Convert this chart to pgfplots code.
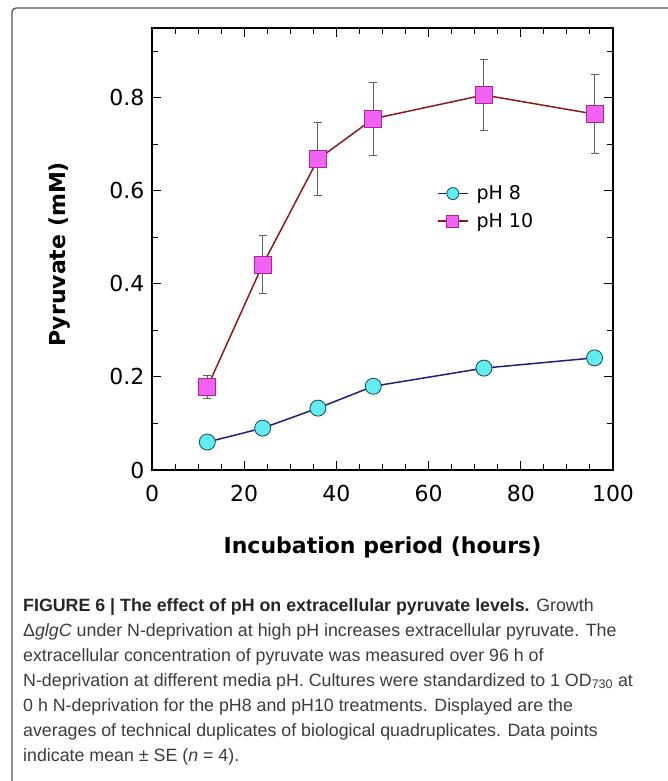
\documentclass[border=0pt]{standalone}
\usepackage{pgfplots}
\pgfplotsset{compat=1.18}
\usepackage{pgfplotstable}
\usepackage{fontspec}
\setmainfont{DejaVu Sans}
\newfontfamily\capfont{Liberation Sans}
\definecolor{cyanfill}{RGB}{96,238,240}
\definecolor{cyanedge}{RGB}{30,85,95}
\definecolor{magfill}{RGB}{242,98,242}
\definecolor{magedge}{RGB}{165,40,150}
\definecolor{navyline}{RGB}{30,30,130}
\definecolor{redline}{RGB}{140,25,30}
\definecolor{errgray}{RGB}{95,95,95}
\definecolor{captxt}{RGB}{60,60,60}
\definecolor{framecol}{RGB}{80,80,80}

\pgfplotstableread{
x y e
12 0.060 0.005
24 0.090 0.011
36 0.133 0.012
48 0.180 0.012
72 0.219 0.010
96 0.241 0.012
}\phEight
\pgfplotstableread{
x y e
12 0.178 0.025
24 0.441 0.062
36 0.668 0.079
48 0.755 0.078
72 0.806 0.077
96 0.765 0.084
}\phTen

\begin{document}
\begin{tikzpicture}
\path[use as bounding box] (0pt,0pt) rectangle (668pt,-781pt);
\draw[framecol, line width=1.2pt, rounded corners=4pt] (12pt,-781pt) -- (12pt,-8pt) -- (668pt,-8pt);

\begin{axis}[
  at={(152pt,-470pt)}, anchor=south west,
  scale only axis, width=461pt, height=442pt,
  xmin=0, xmax=100, ymin=0, ymax=0.95,
  xtick={0,20,...,100}, minor xtick={5,10,...,95},
  ytick={0,0.2,0.4,0.6,0.8}, minor ytick={0.1,0.3,0.5,0.7,0.9},
  tick align=inside, tick pos=both,
  major tick length=9pt, minor tick length=6pt,
  axis line style={line width=2.7pt},
  every tick/.style={black, line width=1pt},
  /pgf/number format/assume math mode=true,
  ticklabel style={font=\fontsize{22}{22}\selectfont},
  xticklabel style={yshift=-12pt},
  yticklabel style={xshift=-4pt},
  xlabel={\bfseries Incubation period (hours)},
  ylabel={\bfseries Pyruvate (mM)},
  every axis x label/.style={at={(axis description cs:0.5,0)}, anchor=center, yshift=-77pt, font=\fontsize{22}{22}\selectfont},
  every axis y label/.style={at={(axis description cs:0,0.488)}, rotate=90, anchor=center, yshift=92pt, font=\fontsize{22}{22}\selectfont},
  legend style={at={(rel axis cs:0.618,0.648)}, anchor=north west, draw=none, fill=none,
    font=\fontsize{19}{19}\selectfont, row sep=8pt, inner sep=0pt},
  legend cell align=left,
  legend image code/.code={\draw[mark repeat=2,mark phase=2, mark size=6pt] plot coordinates {(0pt,0pt) (15pt,0pt) (30pt,0pt)};},
]
\addplot[navyline, line width=1.5pt, mark=*, mark size=8pt,
  mark options={fill=cyanfill, draw=cyanedge, line width=0.9pt}] table[x=x,y=y] {\phEight};
\addlegendentry{\hspace*{6pt}pH 8}
\addplot[redline, line width=1.5pt, mark=square*, mark size=8.5pt,
  mark options={fill=magfill, draw=magedge, line width=0.9pt}] table[x=x,y=y] {\phTen};
\addlegendentry{\hspace*{6pt}pH 10}
\addplot[draw=none, forget plot, mark=none,
  error bars/.cd, y dir=both, y explicit,
  error bar style={draw=errgray, line width=1pt},
  error mark options={rotate=90, mark size=4pt, draw=errgray, line width=1pt}]
  table[x=x, y=y, y error=e] {\phEight};
\addplot[draw=none, forget plot, mark=none,
  error bars/.cd, y dir=both, y explicit,
  error bar style={draw=errgray, line width=1pt},
  error mark options={rotate=90, mark size=4pt, draw=errgray, line width=1pt}]
  table[x=x, y=y, y error=e] {\phTen};
\end{axis}

\node[anchor=base west, inner sep=0pt, align=left, text=captxt,
  font=\capfont\fontsize{17.8}{25}\selectfont] at (23pt,-761pt) {%
{\bfseries\color{black!85}FIGURE 6 | The effect of pH on extracellular pyruvate levels.} Growth\\
Δ\textit{glgC} under N-deprivation at high pH increases extracellular pyruvate. The\\
extracellular concentration of pyruvate was measured over 96 h of\\
N-deprivation at different media pH. Cultures were standardized to 1 OD\textsubscript{730} at\\
0 h N-deprivation for the pH8 and pH10 treatments. Displayed are the\\
averages of technical duplicates of biological quadruplicates. Data points\\
indicate mean ± SE (\textit{n} = 4).};
\end{tikzpicture}
\end{document}
